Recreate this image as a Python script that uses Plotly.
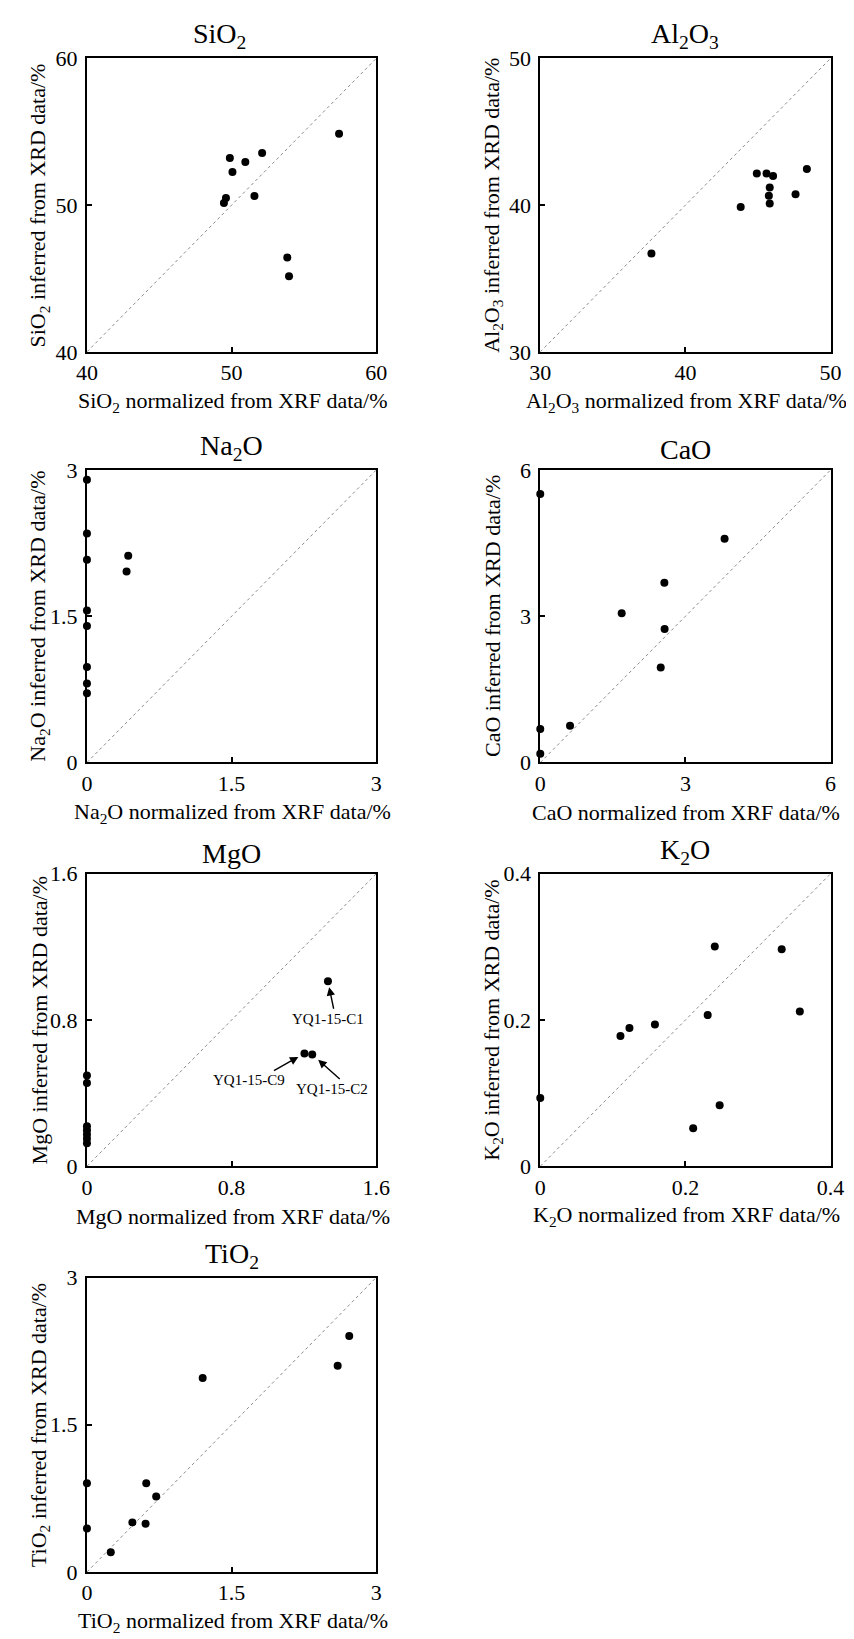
import plotly.graph_objects as go

# ---------------- data ----------------
sio2_xrf = [57.43, 49.88, 50.95, 52.11, 50.06, 49.61, 49.47, 51.58, 53.85, 53.97]
sio2_xrd = [54.87, 53.21, 52.94, 53.55, 52.25, 50.48, 50.15, 50.63, 46.43, 45.15]

al2o3_xrf = [44.92, 45.59, 46.04, 48.37, 45.81, 45.75, 45.81, 47.59, 43.81, 37.66]
al2o3_xrd = [42.16, 42.16, 41.98, 42.47, 41.20, 40.64, 40.12, 40.75, 39.88, 36.70]

na2o_xrf = [0, 0, 0, 0, 0, 0, 0, 0, 0.428, 0.411]
na2o_xrd = [2.90, 2.35, 2.08, 1.56, 1.40, 0.98, 0.81, 0.71, 2.12, 1.96]

cao_xrf = [0, 3.81, 2.565, 1.683, 2.57, 2.49, 0.615, 0, 0]
cao_xrd = [5.51, 4.59, 3.69, 3.06, 2.74, 1.95, 0.753, 0.686, 0.18]

mgo_xrf = [1.333, 1.203, 1.246, 0, 0, 0, 0, 0, 0, 0]
mgo_xrd = [1.012, 0.617, 0.612, 0.497, 0.456, 0.219, 0.197, 0.174, 0.151, 0.126]
mgo_labels = ["YQ1-15-C1", "YQ1-15-C9", "YQ1-15-C2"]

k2o_xrf = [0.2405, 0.3327, 0.3577, 0.2307, 0.158, 0.1229, 0.1105, 0, 0.2472, 0.2107]
k2o_xrd = [0.3004, 0.2969, 0.2117, 0.2067, 0.1937, 0.1892, 0.178, 0.0933, 0.0834, 0.052]

tio2_xrf = [2.72, 2.60, 1.20, 0.615, 0.718, 0.471, 0.608, 0.247, 0, 0]
tio2_xrd = [2.404, 2.10, 1.975, 0.904, 0.77, 0.505, 0.492, 0.20, 0.904, 0.442]

oxides = ["SiO<sub>2</sub>", "Al<sub>2</sub>O<sub>3</sub>", "Na<sub>2</sub>O", "CaO",
          "MgO", "K<sub>2</sub>O", "TiO<sub>2</sub>"]
tick_values = [[40, 50, 60], [30, 40, 50], [0, 1.5, 3], [0, 3, 6],
               [0, 0.8, 1.6], [0, 0.2, 0.4], [0, 1.5, 3]]
tick_labels = [["40", "50", "60"], ["30", "40", "50"], ["0", "1.5", "3"], ["0", "3", "6"],
               ["0", "0.8", "1.6"], ["0", "0.2", "0.4"], ["0", "1.5", "3"]]
xs = [sio2_xrf, al2o3_xrf, na2o_xrf, cao_xrf, mgo_xrf, k2o_xrf, tio2_xrf]
ys = [sio2_xrd, al2o3_xrd, na2o_xrd, cao_xrd, mgo_xrd, k2o_xrd, tio2_xrd]

# ---------------- layout (pixel boxes) ----------------
W, H = 854, 1639
col_x = [(70, 368), (537, 836)]
row_y = [(39, 337), (457, 754), (867, 1164), (1277, 1576)]
boxes = []
for i in range(7):
    r, c = divmod(i, 2)
    boxes.append((col_x[c][0], col_x[c][1], row_y[r][0], row_y[r][1]))

FONT = "Liberation Serif, Times New Roman, serif"

def px(xp):
    return xp / W

def py(yp):
    return 1 - yp / H

fig = go.Figure()
annotations = []

for i in range(7):
    l, rgt, t, b = boxes[i]
    n = "" if i == 0 else str(i + 1)
    rng = [tick_values[i][0], tick_values[i][-1]]
    axcommon = dict(range=rng, tickvals=tick_values[i], ticktext=tick_labels[i],
                    ticks="inside", ticklen=5, tickwidth=1.5, tickcolor="black",
                    showline=True, linecolor="black", linewidth=2, mirror=True,
                    showgrid=False, zeroline=False,
                    tickfont=dict(family=FONT, size=22, color="black"))
    fig.layout["xaxis" + n] = dict(domain=[px(l), px(rgt)], anchor="y" + n, **axcommon)
    fig.layout["yaxis" + n] = dict(domain=[py(b), py(t)], anchor="x" + n,
                                   ticklabelstandoff=3, **axcommon)
    # 1:1 reference line
    fig.add_trace(go.Scatter(x=rng, y=rng, mode="lines", xaxis="x" + n, yaxis="y" + n,
                             line=dict(color="#8a8a8a", width=1, dash="dot"),
                             hoverinfo="skip", showlegend=False))
    fig.add_trace(go.Scatter(x=xs[i], y=ys[i], mode="markers", xaxis="x" + n, yaxis="y" + n,
                             marker=dict(color="black", size=8), cliponaxis=False,
                             showlegend=False))
    name = oxides[i]
    cx = (l + rgt) / 2
    tx = cx - 12 if i == 0 else cx
    annotations.append(dict(text=name, x=px(tx), y=py(t - 3), xref="paper", yref="paper",
                            xanchor="center", yanchor="bottom", showarrow=False,
                            font=dict(family=FONT, size=28, color="black")))
    annotations.append(dict(text=name + " normalized from XRF data/%", x=px(cx + 1), y=py(b + 51),
                            xref="paper", yref="paper", xanchor="center", yanchor="middle",
                            showarrow=False, font=dict(family=FONT, size=22, color="black")))
    annotations.append(dict(text=name + " inferred from XRD data/%", x=px(l - 49), y=py((t + b) / 2),
                            xref="paper", yref="paper", xanchor="center", yanchor="middle",
                            textangle=-90, showarrow=False,
                            font=dict(family=FONT, size=22, color="black")))

# MgO sample labels with arrows (pixel offsets relative to the labelled points)
arrow_tail = [(6, 29), (-32, 18), (29, 26)]
arrow_standoff = [6, 7, 8]
label_shift = [(0, -38), (-55, -27), (20, -35)]
for k, lab in enumerate(mgo_labels):
    annotations.append(dict(x=mgo_xrf[k], y=mgo_xrd[k], xref="x5", yref="y5", text="",
                            showarrow=True, ax=arrow_tail[k][0], ay=arrow_tail[k][1],
                            arrowhead=2, arrowsize=1.2, arrowwidth=1.4, arrowcolor="black",
                            standoff=arrow_standoff[k]))
    annotations.append(dict(x=mgo_xrf[k], y=mgo_xrd[k], xref="x5", yref="y5", text=lab,
                            showarrow=False, xshift=label_shift[k][0], yshift=label_shift[k][1],
                            font=dict(family=FONT, size=15, color="black")))

fig.update_layout(width=W, height=H, margin=dict(l=0, r=0, t=0, b=0),
                  paper_bgcolor="white", plot_bgcolor="white",
                  annotations=annotations, showlegend=False)

fig.write_html("out.html")
